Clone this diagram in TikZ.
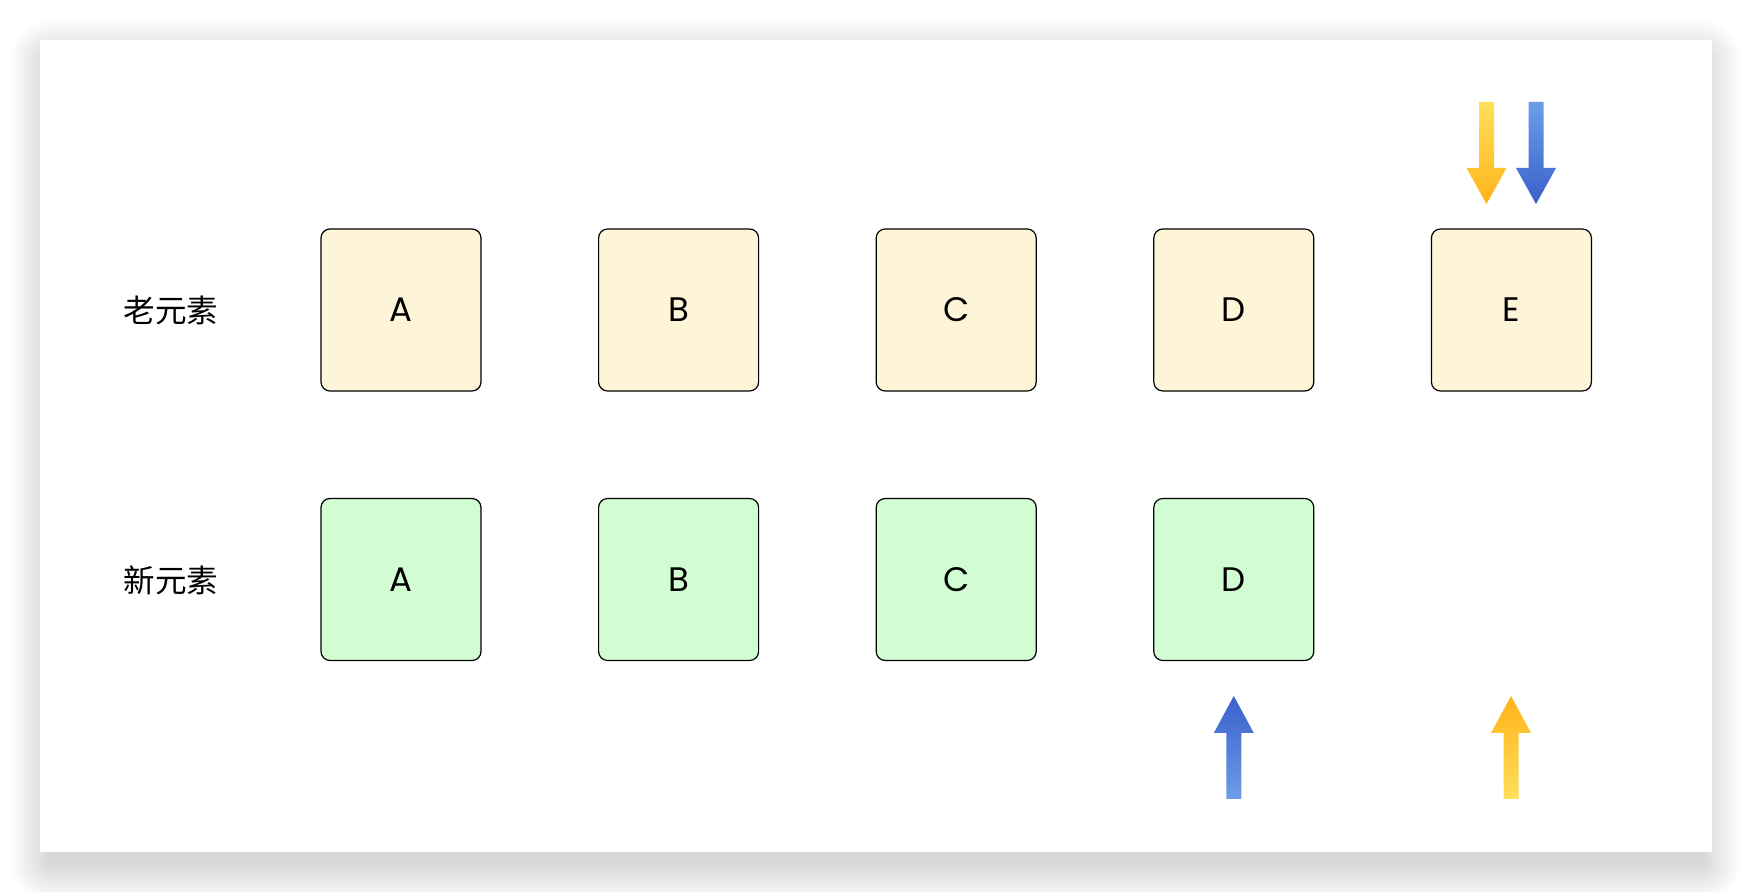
\documentclass[tikz,border=0pt]{standalone}
\usepackage{fontspec}
\newfontfamily\latinf{Poppins}
\newfontfamily\cjk{Noto Sans CJK SC}
\definecolor{oldfill}{HTML}{FEF5D8}
\definecolor{newfill}{HTML}{D2FDD3}
\definecolor{yeltop}{HTML}{FFDF5A}
\definecolor{yelbot}{HTML}{FFB31A}
\definecolor{bluetop}{HTML}{6C9DE9}
\definecolor{bluebot}{HTML}{3A60CB}
\tikzset{
  elem/.style={draw=black, line width=0.6pt, rounded corners=4.5pt, minimum width=80pt, minimum height=81pt, inner sep=0pt, font=\latinf\fontsize{17}{20}\selectfont},
  oldelem/.style={elem, fill=oldfill},
  newelem/.style={elem, fill=newfill},
  rowlabel/.style={font=\cjk\fontsize{15.8}{18}\selectfont, inner sep=0pt},
  yelshade/.style={top color=yeltop, bottom color=yelbot, draw=none},
  blueshade/.style={top color=bluetop, bottom color=bluebot, draw=none},
  yelshadeup/.style={top color=yelbot, bottom color=yeltop, draw=none},
  blueshadeup/.style={top color=bluebot, bottom color=bluetop, draw=none},
}
\newcommand{\downarrowshape}[2]{% center x, style
  \path[#2] (#1-7.5,102) -- (#1+7.5,102) -- (#1+7.5,168) -- (#1+20,168) -- (#1,204) -- (#1-20,168) -- (#1-7.5,168) -- cycle;}
\newcommand{\uparrowshape}[2]{%
  \path[#2] (#1-7.5,799) -- (#1+7.5,799) -- (#1+7.5,733) -- (#1+20,733) -- (#1,696) -- (#1-20,733) -- (#1-7.5,733) -- cycle;}
\begin{document}
\begin{tikzpicture}[x=0.5pt,y=-0.5pt]
\useasboundingbox (0,0) rectangle (1752,892);
\fill[white] (0,0) rectangle (1752,892);
% soft shadow of the card
\foreach \i in {1,...,40}{
  \fill[black, opacity=0.0024, rounded corners=\i*0.5pt] (50-\i,60-\i) rectangle (1701+\i,862+\i);
}
\fill[white] (40,40) rectangle (1712,852);
\node[rowlabel] (lold) at (171,310) {老元素};
\node[rowlabel] (lnew) at (171,580) {新元素};
\foreach \n/\x in {A/401,B/678.6,C/956.2,D/1233.8,E/1511.4}{
  \node[oldelem] (o\n) at (\x,310) {\n};
}
\foreach \n/\x in {A/401,B/678.6,C/956.2,D/1233.8}{
  \node[newelem] (n\n) at (\x,579.5) {\n};
}
\downarrowshape{1486.5}{yelshade}
\downarrowshape{1536}{blueshade}
\uparrowshape{1233.8}{blueshadeup}
\uparrowshape{1511}{yelshadeup}
\end{tikzpicture}
\end{document}
